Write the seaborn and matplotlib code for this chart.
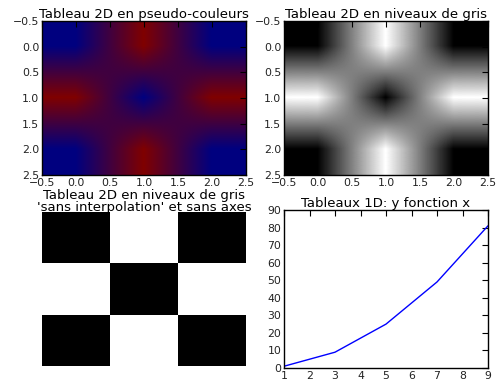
import numpy as np
import matplotlib
matplotlib.use("Agg")
import matplotlib.pyplot as plt
import seaborn as sns
import pandas as pd

# Data
tableau = [[0, 1, 0],
           [1, 0, 1],
           [0, 1, 0]]
x_vals = [1, 3, 5, 7, 9]
y_vals = [1, 9, 25, 49, 81]
ticks_2d = [-0.5, 0.0, 0.5, 1.0, 1.5, 2.0, 2.5]
xticks_1d = [1, 2, 3, 4, 5, 6, 7, 8, 9]
yticks_1d = [0, 10, 20, 30, 40, 50, 60, 70, 80, 90]

sns.set_theme(style="white")
plt.rcParams.update({
    "font.family": ["DejaVu Sans"],
    "text.color": "black",
    "axes.titlecolor": "black",
    "xtick.direction": "in",
    "ytick.direction": "in",
    "xtick.top": True,
    "ytick.right": True,
    "xtick.major.size": 4,
    "ytick.major.size": 4,
    "xtick.major.width": 0.8,
    "ytick.major.width": 0.8,
    "xtick.labelsize": 7.8,
    "ytick.labelsize": 7.8,
    "axes.edgecolor": "black",
    "axes.linewidth": 1.0,
    "xtick.color": "black",
    "ytick.color": "black",
    "xtick.labelcolor": "#222222",
    "ytick.labelcolor": "#222222",
    "xtick.major.pad": 2,
    "ytick.major.pad": 2,
})

W, H = 497, 381
fig = plt.figure(figsize=(W / 100, H / 100), dpi=100, facecolor="white")

def pos(l, t, r, b):
    return [l / W, 1 - b / H, (r - l) / W, (b - t) / H]

arr = np.array(tableau, dtype=float)
title_kw = dict(fontsize=9.5, pad=2)

ax1 = fig.add_axes(pos(42, 21, 246, 175))
ax1.imshow(arr, cmap="jet", interpolation="bilinear", interpolation_stage="rgba", aspect="auto")
ax1.set_title("Tableau 2D en pseudo-couleurs", **title_kw)
ax1.set_xticks(ticks_2d)
ax1.set_yticks(ticks_2d)
ax1.set_xlim(-0.5, 2.5)
ax1.set_ylim(2.5, -0.5)

ax2 = fig.add_axes(pos(284, 21, 488, 175))
ax2.imshow(arr, cmap="gray", interpolation="bilinear", aspect="auto")
ax2.set_title("Tableau 2D en niveaux de gris", **title_kw)
ax2.set_xticks(ticks_2d)
ax2.set_yticks(ticks_2d)
ax2.set_xlim(-0.5, 2.5)
ax2.set_ylim(2.5, -0.5)

ax3 = fig.add_axes(pos(42, 212, 246, 366))
ax3.imshow(arr, cmap="gray", interpolation="nearest", aspect="auto")
ax3.set_title("Tableau 2D en niveaux de gris\n'sans interpolation' et sans axes",
              fontsize=9.5, pad=1, linespacing=0.82)
ax3.axis("off")

ax4 = fig.add_axes(pos(284, 210, 488, 368))
df = pd.DataFrame({"x": x_vals, "y": y_vals})
sns.lineplot(data=df, x="x", y="y", ax=ax4, color="blue", linewidth=1)
ax4.set_title("Tableaux 1D: y fonction x", **title_kw)
ax4.set_xlim(1, 9)
ax4.set_ylim(0, 90)
ax4.set_xticks(xticks_1d)
ax4.set_yticks(yticks_1d)
ax4.set_xlabel("")
ax4.set_ylabel("")

fig.savefig("out.png", dpi=100, facecolor="white")
